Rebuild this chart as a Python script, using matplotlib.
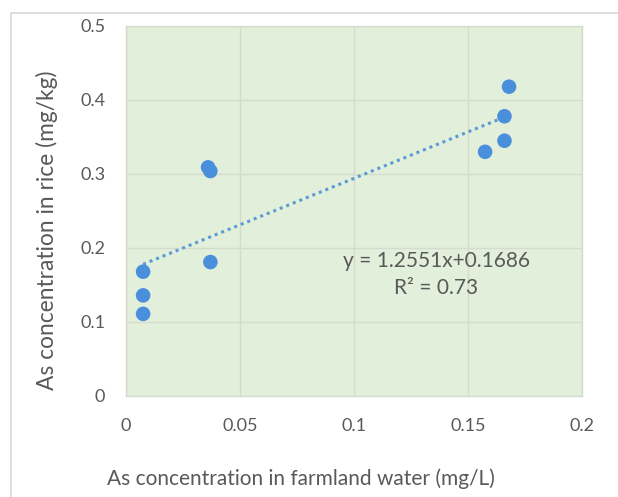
import matplotlib
matplotlib.use("Agg")
import matplotlib.pyplot as plt
from matplotlib.patches import Rectangle

plt.rcParams['font.family'] = ['Lato', 'DejaVu Sans']

water = [0.0075, 0.0075, 0.0075, 0.036, 0.037, 0.037, 0.1575, 0.166, 0.166, 0.168]
rice = [0.168, 0.136, 0.111, 0.309, 0.304, 0.181, 0.330, 0.345, 0.378, 0.418]
slope = 1.2551
intercept = 0.1686
r2 = 0.73
xticks = [0, 0.05, 0.1, 0.15, 0.2]
xtick_labels = ["0", "0.05", "0.1", "0.15", "0.2"]
yticks = [0, 0.1, 0.2, 0.3, 0.4, 0.5]
ytick_labels = ["0", "0.1", "0.2", "0.3", "0.4", "0.5"]

W, H = 618, 497
fig = plt.figure(figsize=(W / 100, H / 100), dpi=100)
fig.patch.set_facecolor('white')
fig.patches.append(Rectangle((11 / W, -0.1), 1.2, (H - 13) / H + 0.1,
                             transform=fig.transFigure, fill=False,
                             edgecolor='#d9d9d9', linewidth=1.2))

ax = fig.add_axes([126 / W, 101 / H, 456 / W, 370 / H])
ax.set_facecolor('#e2efda')
ax.set_xlim(0, 0.2)
ax.set_ylim(0, 0.5)
ax.set_xticks(xticks)
ax.set_xticklabels(xtick_labels)
ax.set_yticks(yticks)
ax.set_yticklabels(ytick_labels)
ax.grid(True, color='#d3dccd', linewidth=1)
ax.set_axisbelow(True)
for s in ax.spines.values():
    s.set_color('#d3dccd')
    s.set_linewidth(1)
ax.tick_params(length=0, labelsize=13, labelcolor='#595959')
ax.tick_params(axis='x', pad=16)
ax.tick_params(axis='y', pad=15)

xmin, xmax = min(water), max(water)
ax.plot([xmin, xmax], [slope * xmin + intercept, slope * xmax + intercept],
        linestyle=(0, (1, 1.3)), color='#5b9bd5', linewidth=2.2, zorder=2)
ax.scatter(water, rice, s=110, color='#4a8fdb', edgecolors='none', zorder=3)

ax.text(0.136, 0.182, f"y = {slope}x+{intercept}", ha='center', va='center',
        fontsize=15, color='#595959')
ax.text(0.136, 0.146, f"R² = {r2}", ha='center', va='center',
        fontsize=15, color='#595959')

fig.text(301 / W, 1 - 479 / H, "As concentration in farmland water (mg/L)",
         ha='center', va='center', fontsize=15, color='#595959')
fig.text(47 / W, 1 - 230 / H, "As concentration in rice (mg/kg)",
         ha='center', va='center', rotation=90, fontsize=16.4, color='#595959')

fig.savefig('out.png', dpi=100)
